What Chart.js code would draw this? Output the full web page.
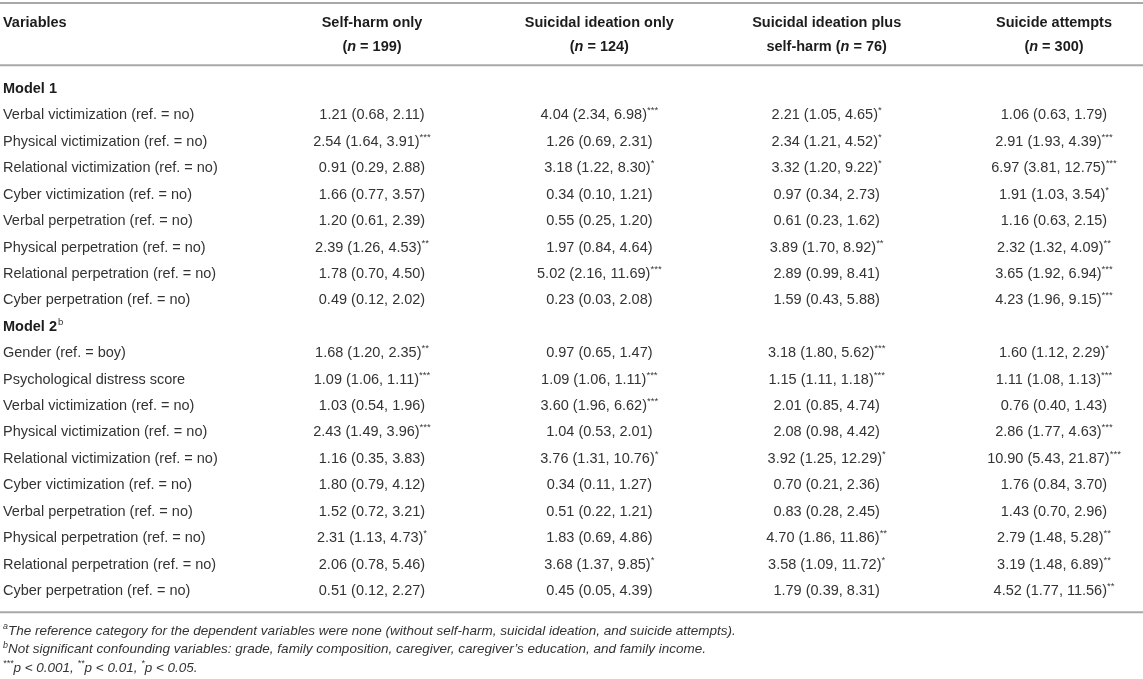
<!DOCTYPE html>
<html>
<head>
<meta charset="utf-8">
<title>Odds ratios table</title>
<script src="https://cdn.jsdelivr.net/npm/chart.js@4.4.1/dist/chart.umd.min.js"></script>
<style>
  html, body { margin: 0; padding: 0; background: #fff; }
  #wrap { position: relative; width: 1143px; height: 679px; }
</style>
</head>
<body>
<div id="wrap"><canvas id="tableChart"></canvas></div>
<script>
// Row labels (y axis categories)
const rowLabels = [
    'Model 1',
    'Verbal victimization (ref. = no)',
    'Physical victimization (ref. = no)',
    'Relational victimization (ref. = no)',
    'Cyber victimization (ref. = no)',
    'Verbal perpetration (ref. = no)',
    'Physical perpetration (ref. = no)',
    'Relational perpetration (ref. = no)',
    'Cyber perpetration (ref. = no)',
    'Model 2',
    'Gender (ref. = boy)',
    'Psychological distress score',
    'Verbal victimization (ref. = no)',
    'Physical victimization (ref. = no)',
    'Relational victimization (ref. = no)',
    'Cyber victimization (ref. = no)',
    'Verbal perpetration (ref. = no)',
    'Physical perpetration (ref. = no)',
    'Relational perpetration (ref. = no)',
    'Cyber perpetration (ref. = no)'
];

// Column groups (x axis categories)
const groupNames = ['Self-harm only', 'Suicidal ideation only', 'Suicidal ideation plus', 'Suicide attempts'];
const groupPrefix = ['', '', 'self-harm ', ''];
const groupN = [199, 124, 76, 300];

// OR (95% CI) with significance stars, one array per group
const selfHarmOnly = [null,
    '1.21 (0.68, 2.11)', '2.54 (1.64, 3.91)***', '0.91 (0.29, 2.88)', '1.66 (0.77, 3.57)',
    '1.20 (0.61, 2.39)', '2.39 (1.26, 4.53)**', '1.78 (0.70, 4.50)', '0.49 (0.12, 2.02)',
    null,
    '1.68 (1.20, 2.35)**', '1.09 (1.06, 1.11)***', '1.03 (0.54, 1.96)', '2.43 (1.49, 3.96)***',
    '1.16 (0.35, 3.83)', '1.80 (0.79, 4.12)', '1.52 (0.72, 3.21)', '2.31 (1.13, 4.73)*',
    '2.06 (0.78, 5.46)', '0.51 (0.12, 2.27)'];

const ideationOnly = [null,
    '4.04 (2.34, 6.98)***', '1.26 (0.69, 2.31)', '3.18 (1.22, 8.30)*', '0.34 (0.10, 1.21)',
    '0.55 (0.25, 1.20)', '1.97 (0.84, 4.64)', '5.02 (2.16, 11.69)***', '0.23 (0.03, 2.08)',
    null,
    '0.97 (0.65, 1.47)', '1.09 (1.06, 1.11)***', '3.60 (1.96, 6.62)***', '1.04 (0.53, 2.01)',
    '3.76 (1.31, 10.76)*', '0.34 (0.11, 1.27)', '0.51 (0.22, 1.21)', '1.83 (0.69, 4.86)',
    '3.68 (1.37, 9.85)*', '0.45 (0.05, 4.39)'];

const ideationPlusSelfHarm = [null,
    '2.21 (1.05, 4.65)*', '2.34 (1.21, 4.52)*', '3.32 (1.20, 9.22)*', '0.97 (0.34, 2.73)',
    '0.61 (0.23, 1.62)', '3.89 (1.70, 8.92)**', '2.89 (0.99, 8.41)', '1.59 (0.43, 5.88)',
    null,
    '3.18 (1.80, 5.62)***', '1.15 (1.11, 1.18)***', '2.01 (0.85, 4.74)', '2.08 (0.98, 4.42)',
    '3.92 (1.25, 12.29)*', '0.70 (0.21, 2.36)', '0.83 (0.28, 2.45)', '4.70 (1.86, 11.86)**',
    '3.58 (1.09, 11.72)*', '1.79 (0.39, 8.31)'];

const suicideAttempts = [null,
    '1.06 (0.63, 1.79)', '2.91 (1.93, 4.39)***', '6.97 (3.81, 12.75)***', '1.91 (1.03, 3.54)*',
    '1.16 (0.63, 2.15)', '2.32 (1.32, 4.09)**', '3.65 (1.92, 6.94)***', '4.23 (1.96, 9.15)***',
    null,
    '1.60 (1.12, 2.29)*', '1.11 (1.08, 1.13)***', '0.76 (0.40, 1.43)', '2.86 (1.77, 4.63)***',
    '10.90 (5.43, 21.87)***', '1.76 (0.84, 3.70)', '1.43 (0.70, 2.96)', '2.79 (1.48, 5.28)**',
    '3.19 (1.48, 6.89)**', '4.52 (1.77, 11.56)**'];

const modelRows = [0, 9];

// Footnotes as runs of [text, kind]
const footnotes = [
    [['a', 'sup'], ['The reference category for the dependent variables were none (without self-harm, suicidal ideation, and suicide attempts).', '']],
    [['b', 'sup'], ['Not significant confounding variables: grade, family composition, caregiver, caregiver\u2019s education, and family income.', '']],
    [['***', 'sup'], ['p < 0.001, ', ''], ['**', 'sup'], ['p < 0.01, ', ''], ['*', 'sup'], ['p < 0.05.', '']]
];

const FONT = '"Liberation Sans", Arial, Helvetica, sans-serif';
const TEXT = '#333333';
const HEAD = '#1c1c1c';
const RULE = '#a8a8a8';
const SIZE = 14.5;

function fontStr(size, bold, italic) {
    return (italic ? 'italic ' : '') + (bold ? 'bold ' : '') + size + 'px ' + FONT;
}

// Draw runs of text; kind 'sup' = superscript, 'it' = italic
function drawRuns(ctx, runs, x, y, align, opts) {
    const size = opts.size || SIZE;
    const bold = !!opts.bold;
    const baseItalic = !!opts.italic;
    const widths = runs.map(r => {
        ctx.font = r[1] === 'sup' ? fontStr(size * 0.66, bold, baseItalic) : fontStr(size, bold, baseItalic || r[1] === 'it');
        return ctx.measureText(r[0]).width;
    });
    const total = widths.reduce((a, b) => a + b, 0);
    let cx = align === 'center' ? x - total / 2 : x;
    ctx.textAlign = 'left';
    ctx.textBaseline = 'middle';
    ctx.fillStyle = opts.color || TEXT;
    runs.forEach((r, i) => {
        if (r[1] === 'sup') {
            ctx.font = fontStr(size * 0.66, bold, baseItalic);
            ctx.fillText(r[0], cx, y - size * 0.32);
        } else {
            ctx.font = fontStr(size, bold, baseItalic || r[1] === 'it');
            ctx.fillText(r[0], cx, y);
        }
        cx += widths[i];
    });
}

function splitStars(s) {
    const m = s.match(/^(.*?)(\*+)$/);
    return m ? [[m[1], ''], [m[2], 'sup']] : [[s, '']];
}

const columns = [selfHarmOnly, ideationOnly, ideationPlusSelfHarm, suicideAttempts];

// one point per row (data index = row index), x by group name
const datasets = columns.map((col, ci) => ({
    label: groupNames[ci],
    data: col.map((v, ri) => ({ x: groupNames[ci], y: ri, text: v })),
    showLine: false,
    pointRadius: 0,
    pointHoverRadius: 0
}));

const tablePlugin = {
    id: 'tableText',
    afterDatasetsDraw(chart) {
        const ctx = chart.ctx;
        const xs = chart.scales.x;
        const ys = chart.scales.y;
        const area = chart.chartArea;
        const W = chart.width;
        ctx.save();

        // rules
        ctx.strokeStyle = RULE;
        ctx.lineWidth = 2;
        const rowGap = ys.getPixelForValue(1) - ys.getPixelForValue(0);
        const headRule = area.top - rowGap * 0.9;
        const footRule = area.bottom + rowGap * 0.8;
        [3, headRule, footRule].forEach(yy => {
            ctx.beginPath();
            ctx.moveTo(0, yy);
            ctx.lineTo(W, yy);
            ctx.stroke();
        });

        // header
        const h1 = 23, h2 = 47;
        drawRuns(ctx, [['Variables', '']], ys.left, h1, 'left', { bold: true, color: HEAD });
        groupNames.forEach((name, i) => {
            const cx = xs.getPixelForValue(i);
            drawRuns(ctx, [[name, '']], cx, h1, 'center', { bold: true, color: HEAD });
            const runs = [];
            if (groupPrefix[i]) runs.push([groupPrefix[i], '']);
            runs.push(['(', ''], ['n', 'it'], [' = ' + groupN[i] + ')', '']);
            drawRuns(ctx, runs, cx, h2, 'center', { bold: true, color: HEAD });
        });

        // superscript on Model 2
        ctx.font = fontStr(SIZE, true, false);
        const m2w = ctx.measureText(rowLabels[9]).width;
        drawRuns(ctx, [['b', 'sup']], ys.left + m2w + 1, ys.getPixelForValue(9), 'left', {});

        // cells
        chart.data.datasets.forEach((ds, di) => {
            const meta = chart.getDatasetMeta(di);
            meta.data.forEach((pt, pi) => {
                const txt = ds.data[pi].text;
                if (txt) drawRuns(ctx, splitStars(txt), pt.x, pt.y, 'center', {});
            });
        });

        // footnotes
        footnotes.forEach((runs, i) => {
            drawRuns(ctx, runs, ys.left, footRule + 19 + i * 18.5, 'left', { italic: true, size: 13.5 });
        });
        ctx.restore();
    }
};

new Chart(document.getElementById('tableChart'), {
    type: 'scatter',
    data: { datasets: datasets },
    options: {
        responsive: true,
        maintainAspectRatio: false,
        animation: false,
        events: [],
        layout: { padding: { top: 89, bottom: 88, left: 3, right: 89 } },
        scales: {
            x: {
                type: 'category',
                labels: groupNames,
                offset: false,
                display: false
            },
            y: {
                type: 'category',
                labels: rowLabels,
                offset: false,
                grid: { display: false, drawTicks: false },
                border: { display: false },
                afterFit: scale => { scale.width = 369; },
                ticks: {
                    autoSkip: false,
                    crossAlign: 'far',
                    padding: 0,
                    color: ctx => modelRows.includes(ctx.index) ? HEAD : TEXT,
                    font: ctx => ({
                        family: FONT,
                        size: SIZE,
                        weight: modelRows.includes(ctx.index) ? 'bold' : 'normal'
                    })
                }
            }
        },
        plugins: {
            legend: { display: false },
            tooltip: { enabled: false }
        }
    },
    plugins: [tablePlugin]
});
</script>
</body>
</html>
